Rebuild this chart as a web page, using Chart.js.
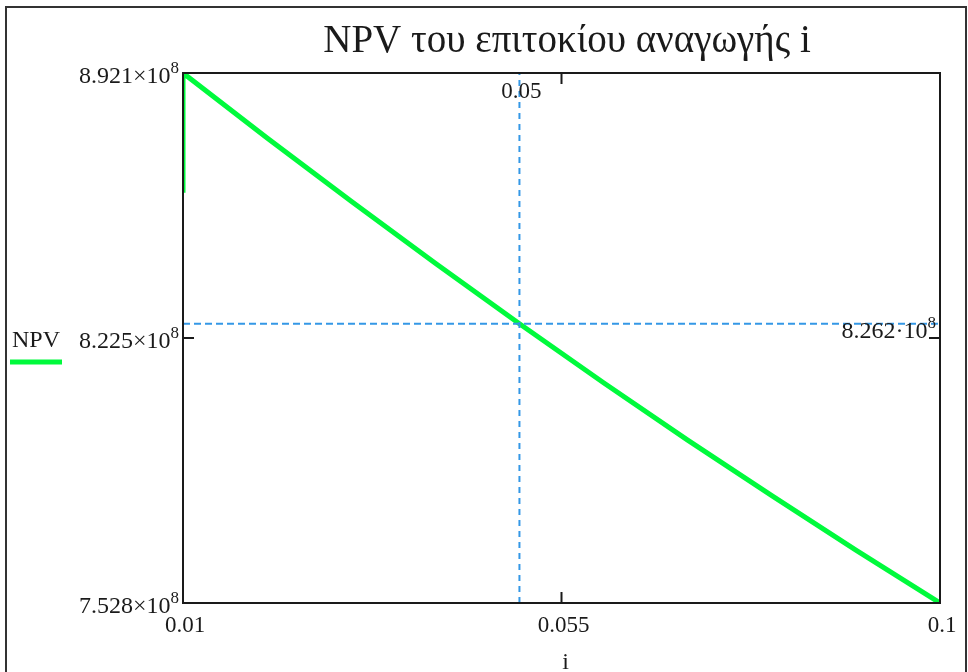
<!DOCTYPE html>
<html>
<head>
<meta charset="utf-8">
<script src="https://cdn.jsdelivr.net/npm/chart.js@4.4.0/dist/chart.umd.min.js"></script>
<style>
  html, body { margin: 0; padding: 0; background: #fff; }
  #wrap { width: 968px; height: 672px; }
</style>
</head>
<body>
<div id="wrap"><canvas id="npvChart" width="968" height="672"></canvas></div>
<script>
// NPV as a function of the discount rate i
const rates = [0.01, 0.01, 0.02, 0.03, 0.04, 0.05, 0.06, 0.07, 0.08, 0.09, 0.1];
const npv = [8.606e8, 8.921e8, 8.750e8, 8.584e8, 8.421e8, 8.262e8, 8.107e8, 7.956e8, 7.810e8, 7.667e8, 7.528e8];

const markerRate = 0.05;
const markerNpv = 8.262e8;
const markerNpvLabel = '8.262';

const xTicks = [0.01, 0.055, 0.1];
const xTickLabels = ['0.01', '0.055', '0.1'];
const yTicks = [7.528e8, 8.2245e8, 8.921e8];
const yTickLabels = ['7.528', '8.225', '8.921'];

const title = 'NPV του επιτοκίου αναγωγής i';
const xTitle = 'i';
const seriesName = 'NPV';

const SERIF = '"Liberation Serif", "DejaVu Serif", serif';
const GREEN = 'rgb(0, 250, 60)';
const BLUE = 'rgb(52, 152, 230)';
const INK = '#1a1a1a';

// mantissa x 10^exp, right aligned at xr
const drawSci = (ctx, mant, sep, exp, xr, yb) => {
  ctx.font = '17px ' + SERIF;
  const we = ctx.measureText(exp).width;
  ctx.font = '24px ' + SERIF;
  const wm = ctx.measureText(mant + sep + '10').width;
  ctx.textAlign = 'left';
  ctx.textBaseline = 'alphabetic';
  ctx.fillText(mant + sep + '10', xr - we - wm, yb);
  ctx.font = '17px ' + SERIF;
  ctx.fillText(exp, xr - we, yb - 10);
};

const mathcadPlot = {
  id: 'mathcadPlot',
  afterDatasetsDraw(chart) {
    const { ctx, chartArea: a, scales } = chart;
    const x = scales.x, y = scales.y;
    ctx.save();

    // plot frame
    ctx.strokeStyle = INK;
    ctx.lineWidth = 2;
    ctx.strokeRect(a.left, a.top, a.right - a.left, a.bottom - a.top);

    // inner ticks at the middle values
    ctx.beginPath();
    const xm = x.getPixelForValue(xTicks[1]);
    ctx.moveTo(xm, a.bottom); ctx.lineTo(xm, a.bottom - 11);
    ctx.moveTo(xm, a.top); ctx.lineTo(xm, a.top + 11);
    const ym = y.getPixelForValue(yTicks[1]);
    ctx.moveTo(a.left, ym); ctx.lineTo(a.left + 11, ym);
    ctx.moveTo(a.right, ym); ctx.lineTo(a.right - 11, ym);
    ctx.stroke();

    ctx.fillStyle = INK;
    // y tick labels
    yTicks.forEach((v, k) => {
      drawSci(ctx, yTickLabels[k], '×', '8', a.left - 4, y.getPixelForValue(v) + 10);
    });
    // x tick labels
    ctx.font = '23px ' + SERIF;
    ctx.textAlign = 'center';
    ctx.textBaseline = 'alphabetic';
    xTicks.forEach((v, k) => {
      ctx.fillText(xTickLabels[k], x.getPixelForValue(v) + 2, a.bottom + 29);
    });

    // marker readouts
    ctx.fillText(String(markerRate), x.getPixelForValue(markerRate) + 2, a.top + 25);
    drawSci(ctx, markerNpvLabel, '·', '8', a.right - 4, y.getPixelForValue(markerNpv) + 14);

    // axis title
    ctx.font = '24px ' + SERIF;
    ctx.textAlign = 'center';
    ctx.fillText(xTitle, (a.left + a.right) / 2 + 4, 669);
    ctx.restore();
  },
  afterDraw(chart) {
    const { ctx } = chart;
    ctx.save();
    // outer frame
    ctx.strokeStyle = '#333';
    ctx.lineWidth = 2;
    ctx.strokeRect(6, 7, 960, 700);
    // title
    ctx.fillStyle = INK;
    ctx.font = '39px ' + SERIF;
    ctx.textAlign = 'center';
    ctx.textBaseline = 'alphabetic';
    ctx.fillText(title, 567, 52);
    // legend
    ctx.font = '24px ' + SERIF;
    ctx.textAlign = 'left';
    ctx.fillText(seriesName, 12, 347);
    ctx.strokeStyle = GREEN;
    ctx.lineWidth = 5;
    ctx.beginPath();
    ctx.moveTo(10, 362); ctx.lineTo(62, 362);
    ctx.stroke();
    ctx.restore();
  }
};

const data = {
  datasets: [
    {
      label: 'marker i',
      data: [{ x: markerRate, y: yTicks[0] }, { x: markerRate, y: yTicks[2] }],
      borderColor: BLUE,
      borderWidth: 2,
      borderDash: [6, 5],
      pointRadius: 0,
      order: 0
    },
    {
      label: 'marker NPV',
      data: [{ x: xTicks[0], y: markerNpv }, { x: xTicks[2], y: markerNpv }],
      borderColor: BLUE,
      borderWidth: 2,
      borderDash: [7, 4],
      pointRadius: 0,
      order: 0
    },
    {
      label: seriesName,
      data: rates.map((r, k) => ({ x: r, y: npv[k] })),
      borderColor: GREEN,
      borderWidth: 5,
      pointRadius: 0,
      tension: 0,
      clip: 0,
      order: 1
    }
  ]
};

const config = {
  type: 'line',
  data: data,
  options: {
    responsive: false,
    animation: false,
    devicePixelRatio: 1,
    layout: { padding: { left: 183, right: 28, top: 73, bottom: 69 } },
    plugins: { legend: { display: false }, title: { display: false }, tooltip: { enabled: false } },
    scales: {
      x: { type: 'linear', min: xTicks[0], max: xTicks[2], display: false },
      y: { type: 'linear', min: yTicks[0], max: yTicks[2], display: false }
    }
  },
  plugins: [mathcadPlot]
};

new Chart(document.getElementById('npvChart'), config);
</script>
</body>
</html>
